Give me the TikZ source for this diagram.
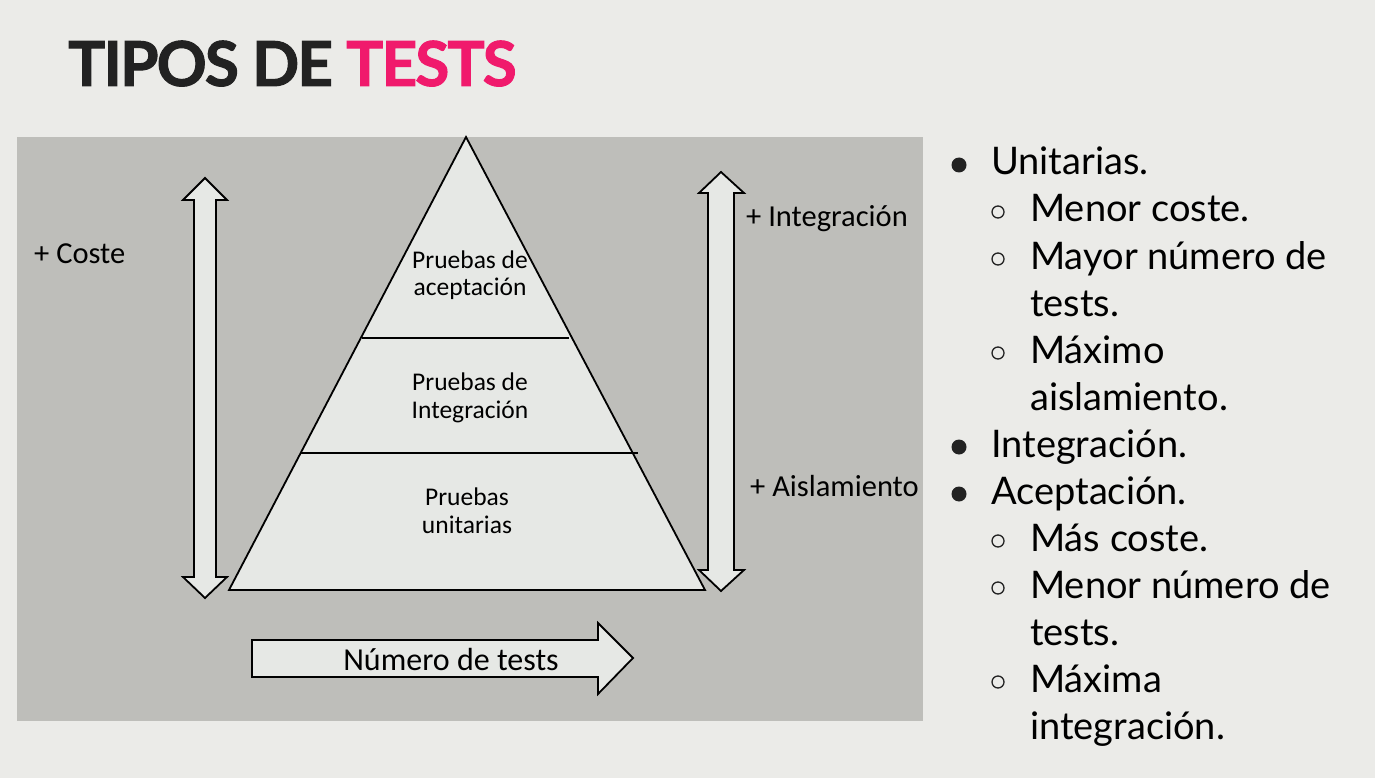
\documentclass[tikz,border=0pt]{standalone}
\usepackage{fontspec}
\setmainfont{Lato}
\newfontfamily\diagfont{Carlito}
\newfontfamily\titlefont{Lato}[BoldFeatures={FakeBold=1.6,LetterSpace=-3}]
\definecolor{pagebg}{HTML}{EBEBE8}
\definecolor{panelgray}{HTML}{BEBEBA}
\definecolor{shapefill}{HTML}{E6E8E5}
\definecolor{inkdark}{HTML}{222222}
\definecolor{accentpink}{HTML}{F01A6C}
\begin{document}
\begin{tikzpicture}[x=1pt,y=-1pt,
  shapebox/.style={draw=black,line width=1.8pt,fill=shapefill,line join=miter},
  divider/.style={draw=black,line width=1.8pt},
  pyrtext/.style={font=\diagfont\fontsize{25.5}{28}\selectfont,anchor=base,inner sep=0pt},
  sidelabel/.style={font=\diagfont\fontsize{30.5}{32}\selectfont,anchor=base west,inner sep=0pt},
  itemtext/.style={font=\fontsize{38}{44}\selectfont,anchor=base west,inner sep=0pt,text=black},
  dotbullet/.style={circle,fill=inkdark,minimum size=15pt,inner sep=0pt},
  ringbullet/.style={circle,draw=inkdark,line width=1.3pt,minimum size=12pt,inner sep=0pt}]
% page and panel
\fill[pagebg] (0,0) rectangle (1375,778);
\useasboundingbox (0,0) rectangle (1375,778);
\fill[panelgray] (17,137) rectangle (923,721);

% title
\node[anchor=base west,inner sep=0pt,font=\titlefont\bfseries\fontsize{62}{70}\selectfont] (title) at (68,86)
  {\textcolor{inkdark}{TIPOS DE} \textcolor{accentpink}{TESTS}};

% pyramid
\draw[shapebox] (466,137) coordinate (apex) -- (705,590) coordinate (baseR) -- (229,590) coordinate (baseL) -- cycle;
\draw[divider] (362,338) coordinate (d1l) -- (569,338) coordinate (d1r);
\draw[divider] (301,453) coordinate (d2l) -- (638,453) coordinate (d2r);

\node[pyrtext] (acc1) at (470,268) {Pruebas de};
\node[pyrtext] (acc2) at (470,295) {aceptación};
\node[pyrtext] (int1) at (470,390) {Pruebas de};
\node[pyrtext] (int2) at (470,418) {Integración};
\node[pyrtext] (uni1) at (467,505) {Pruebas};
\node[pyrtext] (uni2) at (467,533) {unitarias};

% left double arrow (cost)
\draw[shapebox] (205,178) -- (227,200) -- (216,200) -- (216,577) -- (227,577) -- (205,598)
  -- (183,577) -- (194,577) -- (194,200) -- (183,200) -- cycle;
% right double arrow (integration / isolation)
\draw[shapebox] (721,172) -- (744,193) -- (734,193) -- (734,570) -- (744,570) -- (721,591)
  -- (699,570) -- (708,570) -- (708,193) -- (699,193) -- cycle;
% bottom arrow (number of tests)
\draw[shapebox] (252,640) -- (598,640) -- (598,623) -- (633,658) -- (598,694) -- (598,677)
  -- (252,677) -- cycle;

\node[sidelabel] (coste) at (34,263) {+ Coste};
\node[sidelabel] (integ) at (746,226) {+ Integración};
\node[sidelabel] (aisla) at (750,496) {+ Aislamiento};
\node[pyrtext,font=\diagfont\fontsize{32}{34}\selectfont] (numtests) at (451,670) {Número de tests};

% bullet list
\node[dotbullet] (b1) at (959,165) {};
\node[itemtext] (t1) at (991,175) {Unitarias.};
\node[ringbullet] (s1) at (998,212) {};
\node[itemtext] (t2) at (1030,222) {Menor coste.};
\node[ringbullet] (s2) at (998,259) {};
\node[itemtext] (t3) at (1030,269) {Mayor número de};
\node[itemtext] (t3b) at (1030,316) {tests.};
\node[ringbullet] (s3) at (998,353) {};
\node[itemtext] (t4) at (1030,363) {Máximo};
\node[itemtext] (t4b) at (1030,410) {aislamiento.};
\node[dotbullet] (b2) at (959,447) {};
\node[itemtext] (t5) at (991,457) {Integración.};
\node[dotbullet] (b3) at (959,494) {};
\node[itemtext] (t6) at (991,504) {Aceptación.};
\node[ringbullet] (s4) at (998,541) {};
\node[itemtext] (t7) at (1030,551) {Más coste.};
\node[ringbullet] (s5) at (998,588) {};
\node[itemtext] (t8) at (1030,598) {Menor número de};
\node[itemtext] (t8b) at (1030,645) {tests.};
\node[ringbullet] (s6) at (998,682) {};
\node[itemtext] (t9) at (1030,692) {Máxima};
\node[itemtext] (t9b) at (1030,739) {integración.};
\end{tikzpicture}
\end{document}
